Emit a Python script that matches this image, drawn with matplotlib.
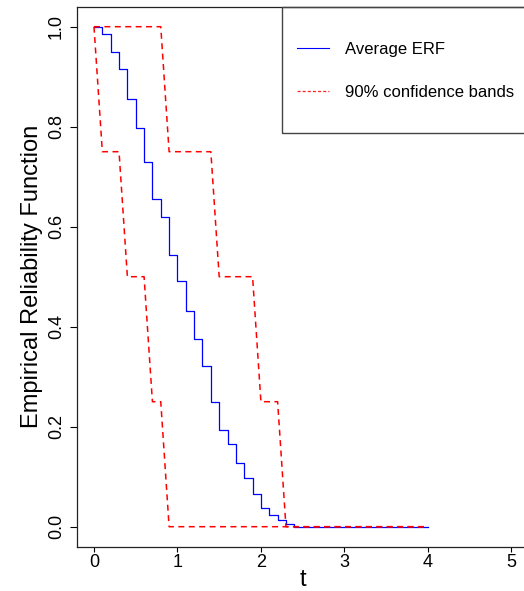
import matplotlib
matplotlib.use("Agg")
import matplotlib.pyplot as plt
from matplotlib.lines import Line2D
from matplotlib.patches import Rectangle

plt.rcParams['font.family'] = ['Liberation Sans', 'DejaVu Sans']
plt.rcParams['lines.scale_dashes'] = False

# Average empirical reliability function (step function, value holds until next t)
t_avg = [0.0, 0.1, 0.2, 0.3, 0.4, 0.5, 0.6, 0.7, 0.8, 0.9, 1.0, 1.1, 1.2,
         1.3, 1.4, 1.5, 1.6, 1.7, 1.8, 1.9, 2.0, 2.1, 2.2, 2.3, 2.4, 4.0]
erf_avg = [1.0, 0.985, 0.949, 0.915, 0.855, 0.797, 0.729, 0.655, 0.619, 0.543,
           0.492, 0.431, 0.376, 0.322, 0.249, 0.193, 0.165, 0.127, 0.098, 0.065,
           0.038, 0.023, 0.013, 0.005, 0.0, 0.0]

# 90% confidence bands
t_upper = [0.0, 0.8, 0.9, 1.4, 1.5, 1.9, 2.0, 2.2, 2.3, 4.0]
erf_upper = [1.0, 1.0, 0.75, 0.75, 0.5, 0.5, 0.25, 0.25, 0.0, 0.0]
t_lower = [0.0, 0.1, 0.3, 0.4, 0.6, 0.7, 0.8, 0.9, 4.0]
erf_lower = [1.0, 0.75, 0.75, 0.5, 0.5, 0.25, 0.25, 0.0, 0.0]

x_ticks = [0, 1, 2, 3, 4, 5]
x_tick_labels = ['0', '1', '2', '3', '4', '5']
y_ticks = [0.0, 0.2, 0.4, 0.6, 0.8, 1.0]
y_tick_labels = ['0.0', '0.2', '0.4', '0.6', '0.8', '1.0']
legend_labels = ['Average ERF', '90% confidence bands']

W, H = 524, 591
fig = plt.figure(figsize=(W / 100, H / 100), dpi=100)
L, R, T, B = 77.3, 528.0, 6.7, 546.7
ax = fig.add_axes([L / W, (H - B) / H, (R - L) / W, (B - T) / H])

ax.step(t_avg, erf_avg, where='post', color='#0000FF', lw=0.9)
band_dash = (0, (4.3, 3.2))
ax.plot(t_upper, erf_upper, color='#FF0000', lw=1.1, linestyle=band_dash)
ax.plot(t_lower, erf_lower, color='#FF0000', lw=1.1, linestyle=band_dash)

ax.set_xlim(-0.2, 5.2)
ax.set_ylim(-0.04, 1.04)
ax.set_xticks(x_ticks)
ax.set_xticklabels(x_tick_labels, fontsize=13)
ax.set_yticks(y_ticks)
ax.set_yticklabels(y_tick_labels, fontsize=13, rotation=90, va='center')
ax.tick_params(axis='x', length=3.6, width=0.8, pad=2.0, colors='black')
ax.tick_params(axis='y', length=5.0, width=0.8, pad=3.8, colors='black')
for sp in ax.spines.values():
    sp.set_linewidth(0.9)
    sp.set_color('#222222')

ax.set_xlabel('t', fontsize=17, labelpad=-1.8)
ax.set_ylabel('Empirical Reliability Function', fontsize=17, labelpad=4)

handles = [
    Line2D([], [], color='#0000FF', lw=0.8),
    Line2D([], [], color='#FF2020', lw=0.9, linestyle=(0, (2.2, 1.5))),
]
fs_leg = 12
fs_px = fs_leg * 100 / 72
leg = ax.legend(handles, legend_labels, loc='center left',
                bbox_to_anchor=(297 / W, (H - 71) / H),
                bbox_transform=fig.transFigure, frameon=False,
                fontsize=fs_leg, borderpad=0, borderaxespad=0,
                handlelength=32 / fs_px, handletextpad=16 / fs_px,
                labelspacing=1.65)

box = Rectangle((282 / W, (H - 133) / H), 0.5, 126 / H,
                transform=fig.transFigure, fill=False,
                edgecolor='#444444', lw=1.0, clip_on=False)
fig.add_artist(box)

fig.savefig('out.png', dpi=100)
